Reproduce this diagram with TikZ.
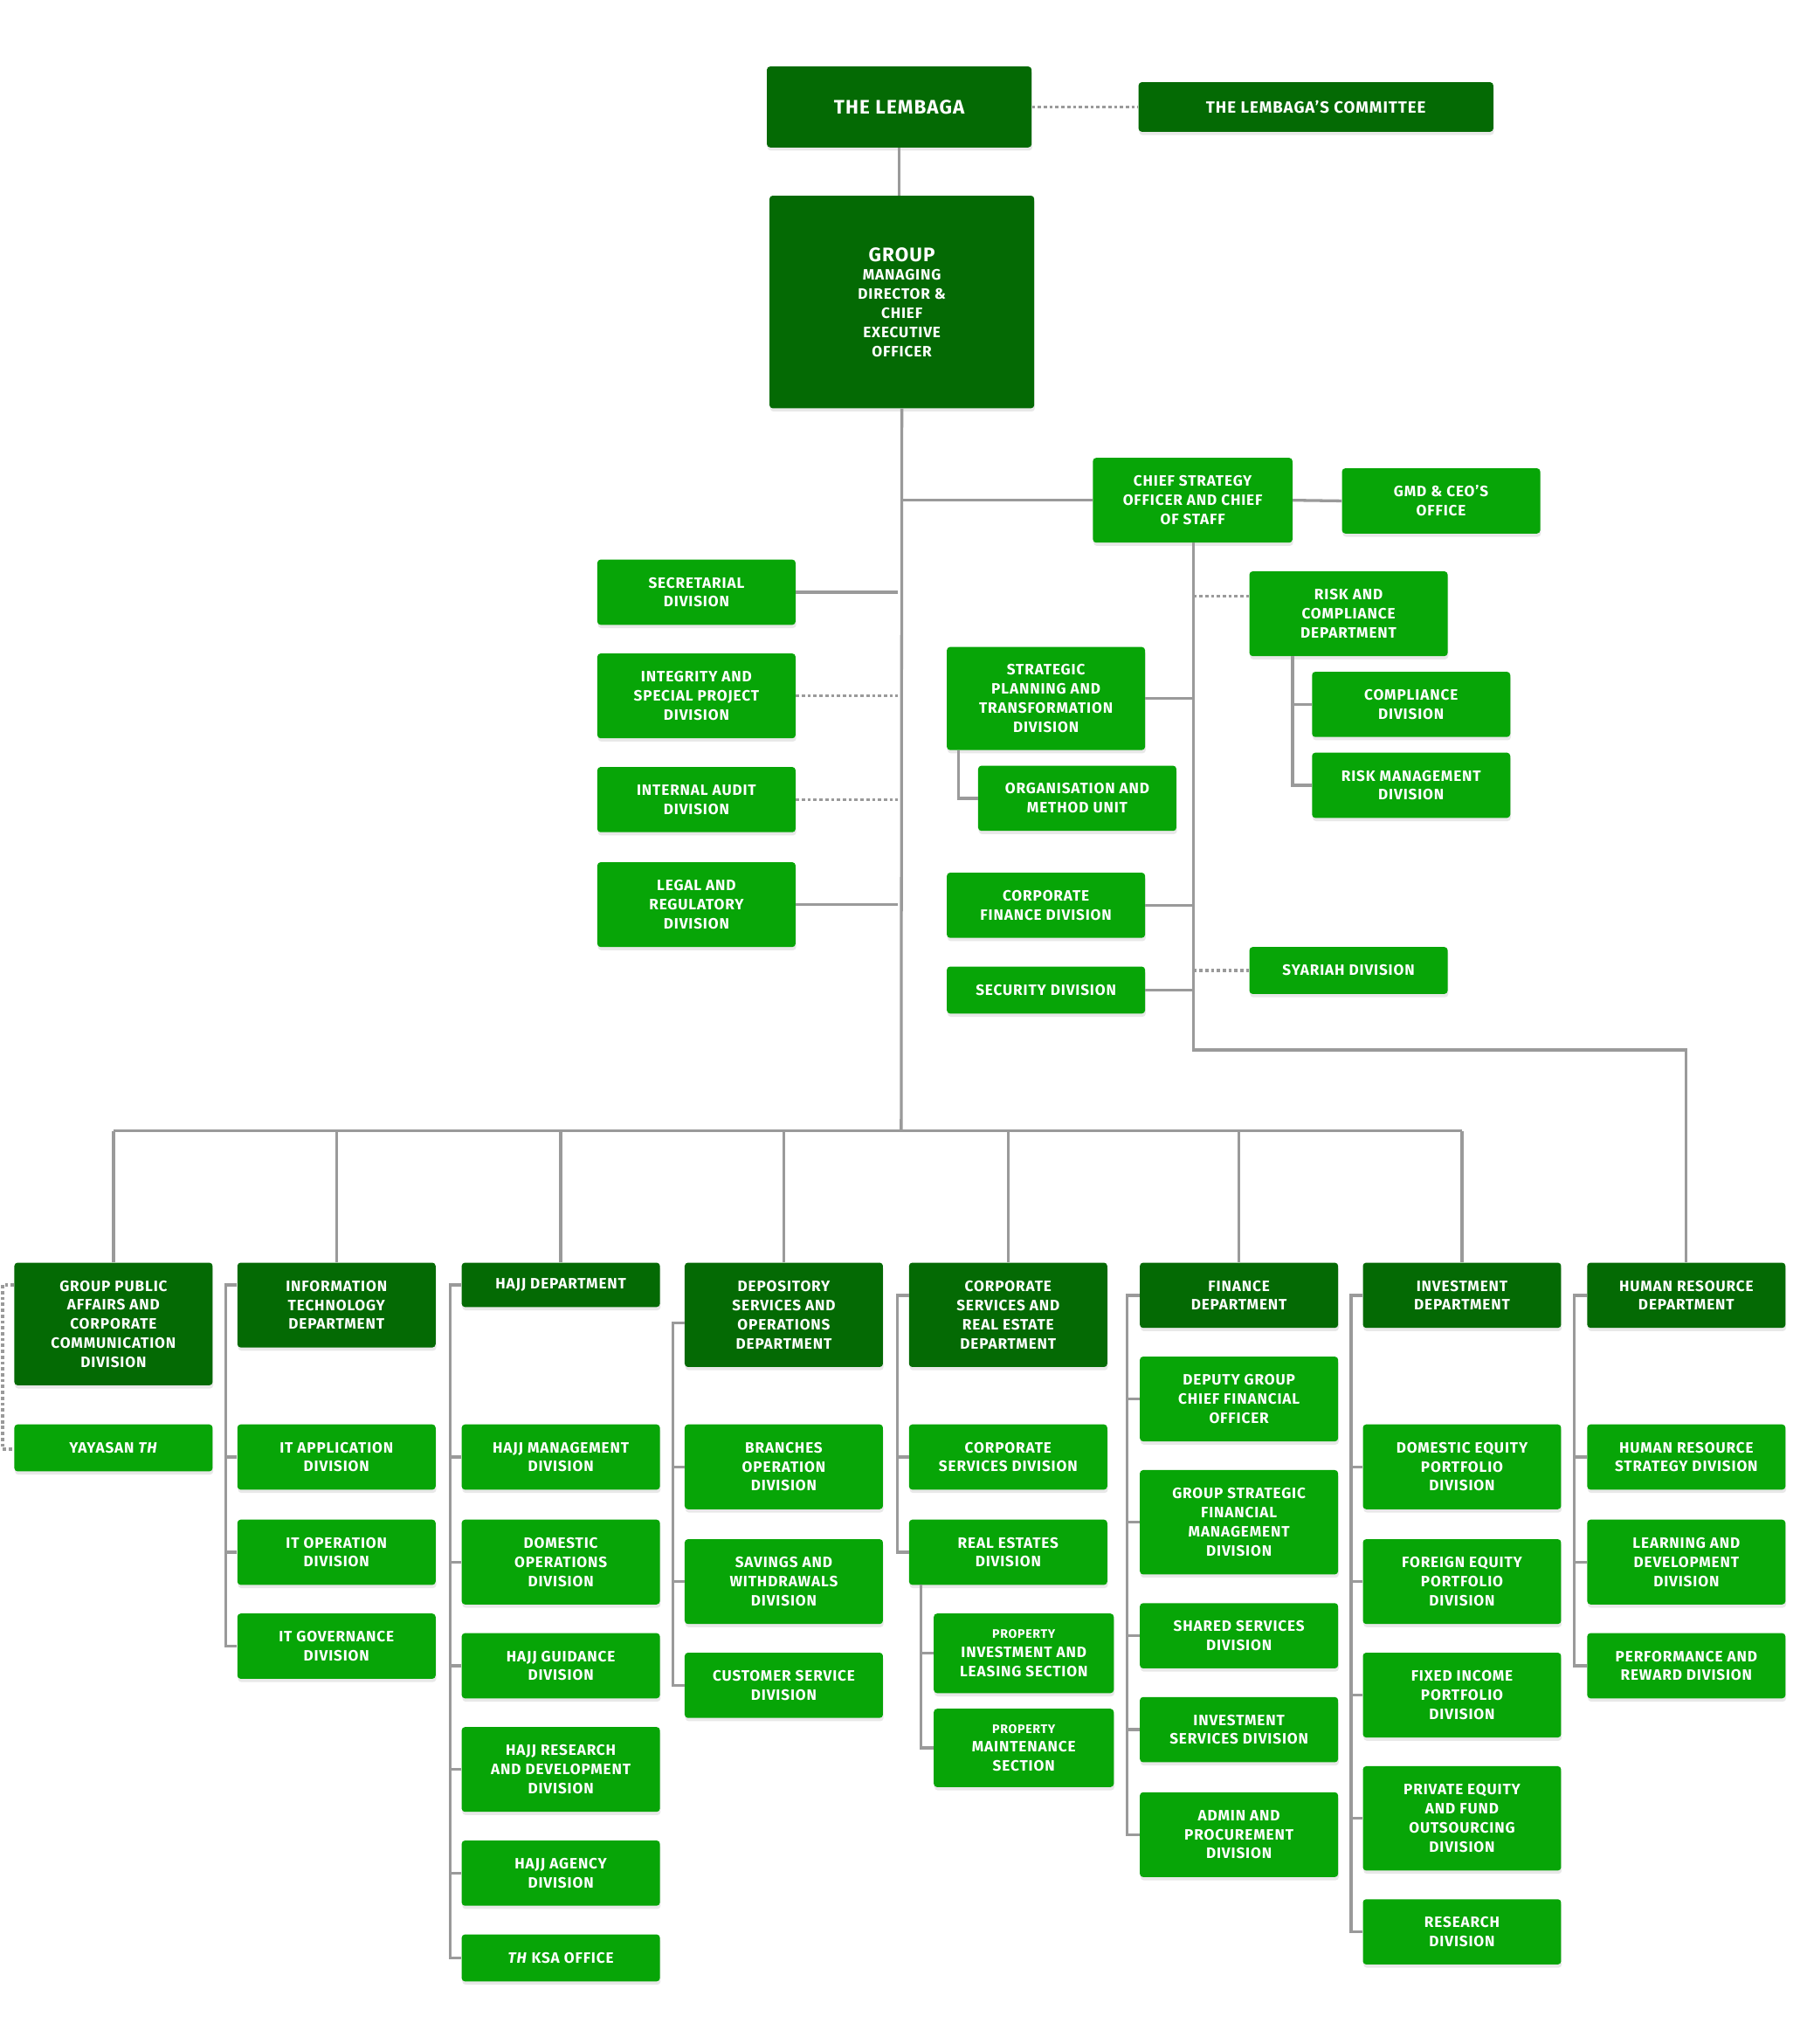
\documentclass[tikz,border=0pt]{standalone}
\usepackage{fontspec}
\setmainfont{Fira Sans}[LetterSpace=5]
\usetikzlibrary{shadows}
\definecolor{dkg}{HTML}{046A04}
\definecolor{btg}{HTML}{07A507}
\definecolor{lng}{HTML}{9A9A9A}
\tikzset{
 base/.style={rounded corners=2.5pt,text=white,font=\fontsize{11.5}{14.6}\selectfont\bfseries,align=center,inner sep=0pt,drop shadow={opacity=0.18,shadow xshift=0.5pt,shadow yshift=-2.5pt}},
 dk/.style={base,fill=dkg},
 bt/.style={base,fill=btg},
 ln/.style={draw=lng,line width=2.2pt},
 dt/.style={draw=lng,line width=2.2pt,dash pattern=on 2.5pt off 2pt},
}
\newcommand\B[7]{\node[#1,minimum width={#5-#3},minimum height={#6-#4}] (#2) at ({(#3+#5)/2},{(#4+#6)/2}) {#7};}
\begin{document}
\begin{tikzpicture}[x=1pt,y=-1pt]
\useasboundingbox[fill=white] (0,0) rectangle (1380,1567);
% top
\B{dk}{lemb}{588}{51}{791}{113}{\fontsize{15}{18}\selectfont THE LEMBAGA}
\B{dk}{comm}{873}{63}{1145}{101}{\fontsize{12.5}{15}\selectfont THE LEMBAGA'S COMMITTEE}
\B{dk}{gmd}{590}{150}{793}{313}{\fontsize{15}{20.2}\selectfont GROUP\\MANAGING\\DIRECTOR \&\\CHIEF\\EXECUTIVE\\OFFICER}
\B{bt}{cso}{838}{351}{991}{416}{CHIEF STRATEGY\\OFFICER AND CHIEF\\OF STAFF}
\B{bt}{gmdo}{1029}{359}{1181}{409}{GMD \& CEO'S\\OFFICE}
\B{bt}{sec}{458}{429}{610}{479}{SECRETARIAL\\DIVISION}
\B{bt}{integ}{458}{501}{610}{566}{INTEGRITY AND\\SPECIAL PROJECT\\DIVISION}
\B{bt}{audit}{458}{588}{610}{638}{INTERNAL AUDIT\\DIVISION}
\B{bt}{legal}{458}{661}{610}{726}{LEGAL AND\\REGULATORY\\DIVISION}
\B{bt}{risk}{958}{438}{1110}{503}{RISK AND\\COMPLIANCE\\DEPARTMENT}
\B{bt}{compl}{1006}{515}{1158}{565}{COMPLIANCE\\DIVISION}
\B{bt}{riskm}{1006}{577}{1158}{627}{RISK MANAGEMENT\\DIVISION}
\B{bt}{strat}{726}{496}{878}{575}{STRATEGIC\\PLANNING AND\\TRANSFORMATION\\DIVISION}
\B{bt}{orgm}{750}{587}{902}{637}{ORGANISATION AND\\METHOD UNIT}
\B{bt}{corpfin}{726}{669}{878}{719}{CORPORATE\\FINANCE DIVISION}
\B{bt}{secur}{726}{741}{878}{777}{SECURITY DIVISION}
\B{bt}{syar}{958}{726}{1110}{762}{SYARIAH DIVISION}
% bottom row
\B{dk}{gpa}{11}{968}{163}{1062}{GROUP PUBLIC\\AFFAIRS AND\\CORPORATE\\COMMUNICATION\\DIVISION}
\B{bt}{yay}{11}{1092}{163}{1128}{YAYASAN \textit{TH}}
\B{dk}{itd}{182}{968}{334}{1033}{INFORMATION\\TECHNOLOGY\\DEPARTMENT}
\B{bt}{ita}{182}{1092}{334}{1142}{IT APPLICATION\\DIVISION}
\B{bt}{ito}{182}{1165}{334}{1215}{IT OPERATION\\DIVISION}
\B{bt}{itg}{182}{1237}{334}{1287}{IT GOVERNANCE\\DIVISION}
\B{dk}{hajj}{354}{968}{506}{1002}{HAJJ DEPARTMENT}
\B{bt}{hm}{354}{1092}{506}{1142}{HAJJ MANAGEMENT\\DIVISION}
\B{bt}{hdo}{354}{1165}{506}{1230}{DOMESTIC\\OPERATIONS\\DIVISION}
\B{bt}{hg}{354}{1252}{506}{1302}{HAJJ GUIDANCE\\DIVISION}
\B{bt}{hr}{354}{1324}{506}{1389}{HAJJ RESEARCH\\AND DEVELOPMENT\\DIVISION}
\B{bt}{ha}{354}{1411}{506}{1461}{HAJJ AGENCY\\DIVISION}
\B{bt}{ksa}{354}{1483}{506}{1519}{\textit{TH} KSA OFFICE}
\B{dk}{dep}{525}{968}{677}{1048}{DEPOSITORY\\SERVICES AND\\OPERATIONS\\DEPARTMENT}
\B{bt}{br}{525}{1092}{677}{1157}{BRANCHES\\OPERATION\\DIVISION}
\B{bt}{sav}{525}{1180}{677}{1245}{SAVINGS AND\\WITHDRAWALS\\DIVISION}
\B{bt}{cus}{525}{1267}{677}{1317}{CUSTOMER SERVICE\\DIVISION}
\B{dk}{csd}{697}{968}{849}{1048}{CORPORATE\\SERVICES AND\\REAL ESTATE\\DEPARTMENT}
\B{bt}{cs}{697}{1092}{849}{1142}{CORPORATE\\SERVICES DIVISION}
\B{bt}{re}{697}{1165}{849}{1215}{REAL ESTATES\\DIVISION}
\B{bt}{pil}{716}{1237}{854}{1298}{\fontsize{9.5}{13}\selectfont PROPERTY\\INVESTMENT AND\\LEASING SECTION}
\B{bt}{pm}{716}{1310}{854}{1370}{\fontsize{9.5}{13}\selectfont PROPERTY\\MAINTENANCE\\SECTION}
\B{dk}{fin}{874}{968}{1026}{1018}{FINANCE\\DEPARTMENT}
\B{bt}{dcfo}{874}{1040}{1026}{1105}{DEPUTY GROUP\\CHIEF FINANCIAL\\OFFICER}
\B{bt}{gsfm}{874}{1127}{1026}{1207}{GROUP STRATEGIC\\FINANCIAL\\MANAGEMENT\\DIVISION}
\B{bt}{ssd}{874}{1229}{1026}{1279}{SHARED SERVICES\\DIVISION}
\B{bt}{isd}{874}{1301}{1026}{1351}{INVESTMENT\\SERVICES DIVISION}
\B{bt}{apd}{874}{1374}{1026}{1439}{ADMIN AND\\PROCUREMENT\\DIVISION}
\B{dk}{inv}{1045}{968}{1197}{1018}{INVESTMENT\\DEPARTMENT}
\B{bt}{dep1}{1045}{1092}{1197}{1157}{DOMESTIC EQUITY\\PORTFOLIO\\DIVISION}
\B{bt}{fep}{1045}{1180}{1197}{1245}{FOREIGN EQUITY\\PORTFOLIO\\DIVISION}
\B{bt}{fip}{1045}{1267}{1197}{1332}{FIXED INCOME\\PORTFOLIO\\DIVISION}
\B{bt}{pef}{1045}{1354}{1197}{1434}{PRIVATE EQUITY\\AND FUND\\OUTSOURCING\\DIVISION}
\B{bt}{rsd}{1045}{1456}{1197}{1506}{RESEARCH\\DIVISION}
\B{dk}{hrd}{1217}{968}{1369}{1018}{HUMAN RESOURCE\\DEPARTMENT}
\B{bt}{hrs}{1217}{1092}{1369}{1142}{HUMAN RESOURCE\\STRATEGY DIVISION}
\B{bt}{lnd}{1217}{1165}{1369}{1230}{LEARNING AND\\DEVELOPMENT\\DIVISION}
\B{bt}{prd}{1217}{1252}{1369}{1302}{PERFORMANCE AND\\REWARD DIVISION}
% connectors top
\begin{scope}[on background layer/.style={}]
\draw[ln] (lemb.south) -- (lemb.south|-gmd.north);
\draw[dt] (lemb.east) -- (comm.west);
\coordinate (bus) at (691,867);
\draw[ln] (gmd.south) -- (bus);
\draw[ln] (gmd.south|-cso.west) -- (cso.west);
\draw[ln] (cso.east) -- (gmdo.west);
\coordinate (hrturn) at (915,805);
\draw[ln] (915,416) -- (hrturn) -| (hrd.north);
\draw[ln] (sec.east) -- ++(78,0);
\draw[dt] (integ.east) -- ++(78,0);
\draw[dt] (audit.east) -- ++(78,0);
\draw[ln] (legal.east) -- ++(78,0);
\draw[dt] (915,457) -- (risk.west|-915,457);
\draw[ln] (991,503) |- (compl.west);
\draw[ln] (991,540) |- (riskm.west);
\draw[ln] (strat.east) -- ++(37,0);
\draw[ln] (735,575) |- (orgm.west);
\draw[ln] (corpfin.east) -- ++(37,0);
\draw[ln] (secur.east) -- ++(37,0);
\draw[dt] (915,744) -- (syar.west);
% bus
\draw[ln] (gpa.north|-bus) -- (inv.north|-bus);
\foreach \n in {gpa,itd,hajj,dep,csd,fin,inv} \draw[ln] (\n.north|-bus) -- (\n.north);
% brackets
\draw[dt] (gpa.west|-0,985) -- (2,985) -- (2,1111) -- (yay.west|-0,1111);
\draw[ln] (itd.west|-0,985) -- (173,985) |- (itg.west);
\foreach \n in {ita,ito} \draw[ln] (\n.west) -- (173,0|-\n.west);
\draw[ln] (hajj.west|-0,985) -- (345,985) |- (ksa.west);
\foreach \n in {hm,hdo,hg,hr,ha} \draw[ln] (\n.west) -- (345,0|-\n.west);
\draw[ln] (dep.west|-0,1014) -- (516,1014) |- (cus.west);
\foreach \n in {br,sav} \draw[ln] (\n.west) -- (516,0|-\n.west);
\draw[ln] (csd.west|-0,993) -- (688,993) |- (re.west);
\draw[ln] (cs.west) -- (688,0|-cs.west);
\draw[ln] (706,1215) |- (pm.west);
\draw[ln] (pil.west) -- (706,0|-pil.west);
\draw[ln] (fin.west|-0,993) -- (864,993) |- (apd.west);
\foreach \n in {dcfo,gsfm,ssd,isd} \draw[ln] (\n.west) -- (864,0|-\n.west);
\draw[ln] (inv.west|-0,993) -- (1036,993) |- (rsd.west);
\foreach \n in {dep1,fep,fip,pef} \draw[ln] (\n.west) -- (1036,0|-\n.west);
\draw[ln] (hrd.west|-0,993) -- (1207,993) |- (prd.west);
\foreach \n in {hrs,lnd} \draw[ln] (\n.west) -- (1207,0|-\n.west);
\end{scope}
\end{tikzpicture}
\end{document}
